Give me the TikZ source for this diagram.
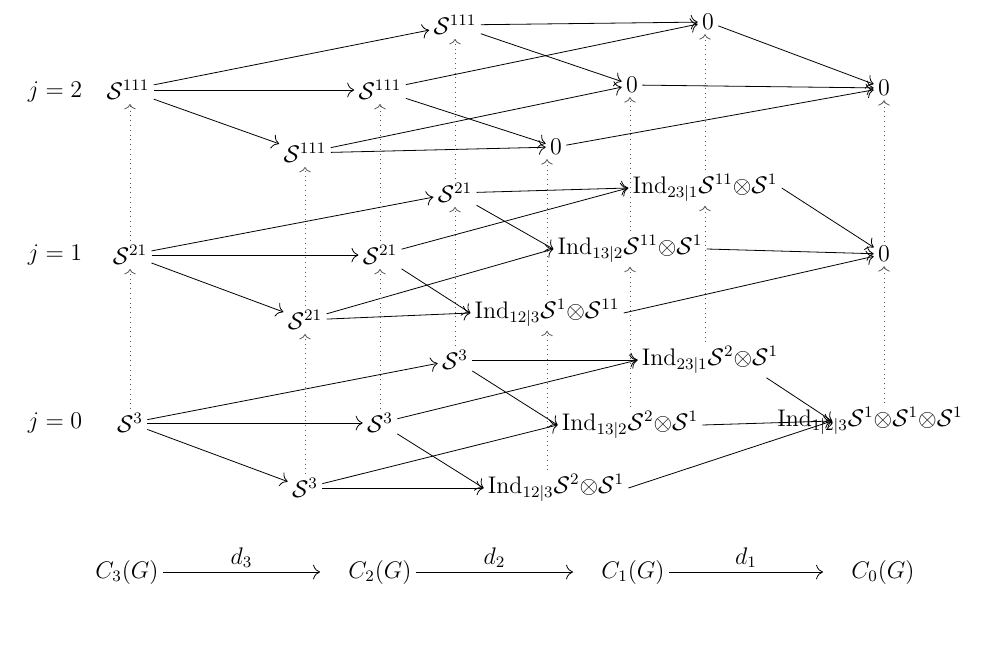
\documentclass[tikz,border=0pt]{standalone}
\usetikzlibrary{positioning, arrows, arrows.meta}
\usepackage{amsmath, amssymb}
\newcommand{\cS}{\mathcal{S}}
\newcommand{\Ind}{\mathrm{Ind}}

\begin{document}
\begin{tikzpicture}[x=0.5pt, y=-0.5pt, every node/.style={font=\large, inner sep=2pt},
	map/.style={-{To[scale=1.4]}}, lift/.style={-{To[scale=1.1]}, dotted, gray!70!black}]
		\useasboundingbox (0,0) rectangle (990,658);
		% level labels
		\node (lab2) at (55,92) {$j=2$};
		\node (lab1) at (55,255) {$j=1$};
		\node (lab0) at (55,423) {$j=0$};
		
		% j = 2
		\node (a2) at (128,90) {$\cS^{111}$};
		\node (bt2) at (455,25) {$\cS^{111}$};
		\node (bm2) at (380,90) {$\cS^{111}$};
		\node (bb2) at (305,153) {$\cS^{111}$};
		\node (ct2) at (708,22) {$0$};
		\node (cm2) at (632,85) {$0$};
		\node (cb2) at (556,147) {$0$};
		\node (d2) at (884,88) {$0$};
		
		% j = 1
		\node (a1) at (130,255) {$\cS^{21}$};
		\node (bt1) at (455,193) {$\cS^{21}$};
		\node (bm1) at (380,255) {$\cS^{21}$};
		\node (bb1) at (305,320) {$\cS^{21}$};
		\node (ct1) at (705,188) {$\Ind_{23|1}\cS^{11}{\otimes}\cS^{1}$};
		\node (cm1) at (630,249) {$\Ind_{13|2}\cS^{11}{\otimes}\cS^{1}$};
		\node (cb1) at (547,313) {$\Ind_{12|3}\cS^{1}{\otimes}\cS^{11}$};
		\node (d1) at (884,254) {$0$};
		
		% j = 0
		\node (a0) at (130,423) {$\cS^{3}$};
		\node (bt0) at (455,360) {$\cS^{3}$};
		\node (bm0) at (380,423) {$\cS^{3}$};
		\node (bb0) at (305,488) {$\cS^{3}$};
		\node (ct0) at (710,360) {$\Ind_{23|1}\cS^{2}{\otimes}\cS^{1}$};
		\node (cm0) at (630,425) {$\Ind_{13|2}\cS^{2}{\otimes}\cS^{1}$};
		\node (cb0) at (556,488) {$\Ind_{12|3}\cS^{2}{\otimes}\cS^{1}$};
		\node (d0) at (870,421) {$\Ind_{1|2|3}\cS^{1}{\otimes}\cS^{1}{\otimes}\cS^{1}$};
		\coordinate (d0in) at (832,421);
		
		% differentials in each level
		\foreach \j/\w in {0/.west,1/.west,2/}{
			\foreach \b in {bt,bm,bb} \draw[map] (a\j) -- (\b\j);
			\draw[map] (bt\j) -- (ct\j\w);
			\draw[map] (bt\j) -- (cm\j\w);
			\draw[map] (bm\j) -- (ct\j\w);
			\draw[map] (bm\j) -- (cb\j\w);
			\draw[map] (bb\j) -- (cm\j\w);
			\draw[map] (bb\j) -- (cb\j\w);
		}
		\foreach \c in {ct,cm,cb}{
			\draw[map] (\c2) -- (d2);
			\draw[map] (\c1.east) -- (d1);
		}
		\draw[map] ([xshift=-8pt]ct0.south east) -- (d0in);
		\draw[map] (cm0.east) -- (d0in);
		\draw[map] (cb0.east) -- (d0in);
		
		% lifts between levels
		\foreach \n in {a,bt,bm,bb,ct,cm,cb,d}{
			\draw[lift] (\n1.south |- \n0.north) -- (\n1.south);
			\draw[lift] (\n1.north) -- (\n1.north |- \n2.south);
		}
		
		% chain complex
		\node (C3) at (127,572) {$C_3(G)$};
		\node (C2) at (380,572) {$C_2(G)$};
		\node (C1) at (633,572) {$C_1(G)$};
		\node (C0) at (883,572) {$C_0(G)$};
		\draw[map] (C3) -- node[above] {$d_3$} ([xshift=-12pt]C2.west);
		\draw[map] (C2) -- node[above] {$d_2$} ([xshift=-12pt]C1.west);
		\draw[map] (C1) -- node[above] {$d_1$} ([xshift=-12pt]C0.west);
\end{tikzpicture}
\end{document}
